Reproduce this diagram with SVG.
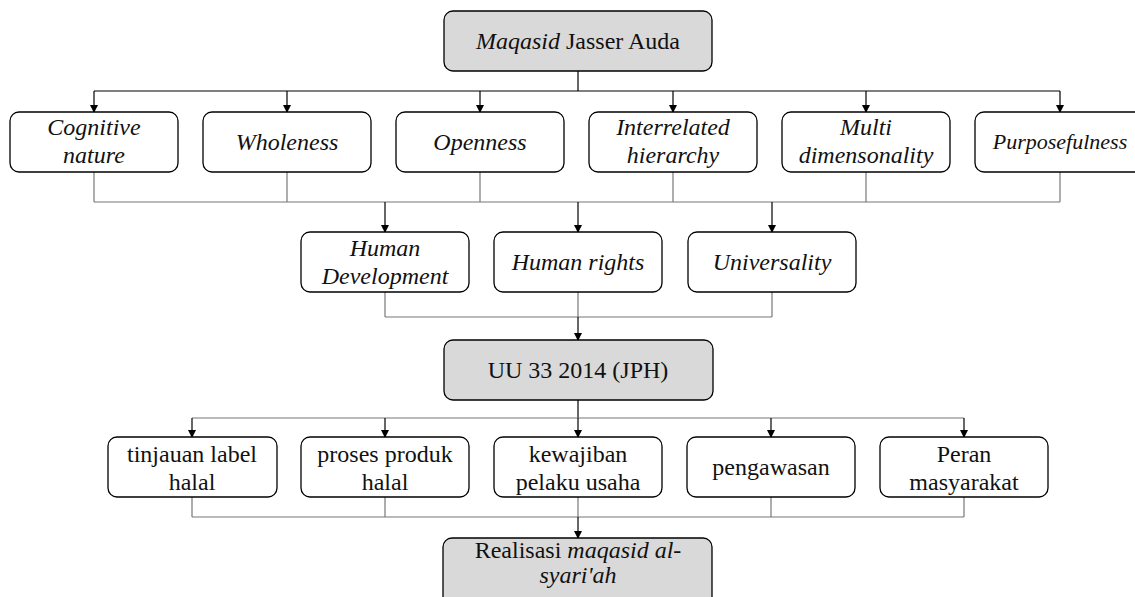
<svg xmlns="http://www.w3.org/2000/svg" width="1135" height="597" viewBox="0 0 1135 597">
<defs>
<marker id="arr" markerUnits="userSpaceOnUse" markerWidth="8" markerHeight="9" refX="7" refY="4" orient="auto" viewBox="0 0 8 8">
<path d="M0,0 L8,4 L0,8 Z" fill="#000"/>
</marker>
<style>
.box{fill:#fff;stroke:#000;stroke-width:1.3}
.hl{fill:#d9d9d9;stroke:#000;stroke-width:1.3}
.t{font-family:"Liberation Serif","Times New Roman",serif;font-size:24px;fill:#111;text-anchor:middle}
.it{font-style:italic}
.k{stroke:#000;stroke-width:1.2;fill:none}
.g{stroke:#777;stroke-width:1.2;fill:none}
.a{stroke:#000;stroke-width:1.2;fill:none;marker-end:url(#arr)}
</style>
</defs>
<g id="connectors">
<line class="k" x1="578" y1="71" x2="578" y2="91"/>
<line class="k" x1="94" y1="91" x2="1060" y2="91"/>
<line class="a" x1="94" y1="91" x2="94" y2="112"/>
<line class="a" x1="287" y1="91" x2="287" y2="112"/>
<line class="a" x1="480" y1="91" x2="480" y2="112"/>
<line class="a" x1="673" y1="91" x2="673" y2="112"/>
<line class="a" x1="866" y1="91" x2="866" y2="112"/>
<line class="a" x1="1060" y1="91" x2="1060" y2="112"/>
<line class="g" x1="94" y1="172" x2="94" y2="202"/>
<line class="g" x1="287" y1="172" x2="287" y2="202"/>
<line class="g" x1="480" y1="172" x2="480" y2="202"/>
<line class="g" x1="673" y1="172" x2="673" y2="202"/>
<line class="g" x1="866" y1="172" x2="866" y2="202"/>
<line class="g" x1="1060" y1="172" x2="1060" y2="202"/>
<line class="g" x1="94" y1="202" x2="1060" y2="202"/>
<line class="a" x1="385" y1="202" x2="385" y2="232"/>
<line class="a" x1="578" y1="202" x2="578" y2="232"/>
<line class="a" x1="772" y1="202" x2="772" y2="232"/>
<line class="g" x1="385" y1="292" x2="385" y2="317"/>
<line class="g" x1="578" y1="292" x2="578" y2="317"/>
<line class="g" x1="772" y1="292" x2="772" y2="317"/>
<line class="g" x1="385" y1="317" x2="772" y2="317"/>
<line class="a" x1="578" y1="317" x2="578" y2="340"/>
<line class="k" x1="578" y1="400" x2="578" y2="418"/>
<line class="g" x1="192" y1="418" x2="964" y2="418"/>
<line class="a" x1="192" y1="418" x2="192" y2="437"/>
<line class="a" x1="385" y1="418" x2="385" y2="437"/>
<line class="a" x1="578" y1="418" x2="578" y2="437"/>
<line class="a" x1="771" y1="418" x2="771" y2="437"/>
<line class="a" x1="964" y1="418" x2="964" y2="437"/>
<line class="g" x1="192" y1="497" x2="192" y2="517"/>
<line class="g" x1="385" y1="497" x2="385" y2="517"/>
<line class="g" x1="578" y1="497" x2="578" y2="517"/>
<line class="g" x1="771" y1="497" x2="771" y2="517"/>
<line class="g" x1="964" y1="497" x2="964" y2="517"/>
<line class="g" x1="192" y1="517" x2="964" y2="517"/>
<line class="a" x1="578" y1="517" x2="578" y2="538"/>
</g>
<g id="n-top">
<rect class="hl" x="444" y="11" width="268" height="60" rx="9"/>
<text class="t" x="578" y="49"><tspan class="it">Maqasid</tspan> Jasser Auda</text>
</g>
<g id="n-cognitive">
<rect class="box" x="10" y="112" width="168" height="60" rx="9"/>
<text class="t it" x="94" y="135">Cognitive</text>
<text class="t it" x="94" y="163">nature</text>
</g>
<g id="n-wholeness">
<rect class="box" x="203" y="112" width="168" height="60" rx="9"/>
<text class="t it" x="287" y="150">Wholeness</text>
</g>
<g id="n-openness">
<rect class="box" x="396" y="112" width="168" height="60" rx="9"/>
<text class="t it" x="480" y="150">Openness</text>
</g>
<g id="n-interrelated">
<rect class="box" x="589" y="112" width="168" height="60" rx="9"/>
<text class="t it" x="673" y="135">Interrelated</text>
<text class="t it" x="673" y="163">hierarchy</text>
</g>
<g id="n-multi">
<rect class="box" x="782" y="112" width="168" height="60" rx="9"/>
<text class="t it" x="866" y="135">Multi</text>
<text class="t it" x="866" y="163">dimensonality</text>
</g>
<g id="n-purpose">
<rect class="box" x="975" y="112" width="170" height="60" rx="9"/>
<text class="t it" x="1060" y="149" style="font-size:22px">Purposefulness</text>
</g>
<g id="n-humandev">
<rect class="box" x="301" y="232" width="168" height="60" rx="9"/>
<text class="t it" x="385" y="256">Human</text>
<text class="t it" x="385" y="284">Development</text>
</g>
<g id="n-humanrights">
<rect class="box" x="494" y="232" width="168" height="60" rx="9"/>
<text class="t it" x="578" y="270">Human rights</text>
</g>
<g id="n-universality">
<rect class="box" x="688" y="232" width="168" height="60" rx="9"/>
<text class="t it" x="772" y="270">Universality</text>
</g>
<g id="n-uu">
<rect class="hl" x="444" y="340" width="269" height="60" rx="9"/>
<text class="t" x="578" y="378">UU 33 2014 (JPH)</text>
</g>
<g id="n-tinjauan">
<rect class="box" x="108" y="437" width="169" height="60" rx="9"/>
<text class="t" x="192" y="462">tinjauan label</text>
<text class="t" x="192" y="490">halal</text>
</g>
<g id="n-proses">
<rect class="box" x="301" y="437" width="168" height="60" rx="9"/>
<text class="t" x="385" y="462">proses produk</text>
<text class="t" x="385" y="490">halal</text>
</g>
<g id="n-kewajiban">
<rect class="box" x="494" y="437" width="168" height="60" rx="9"/>
<text class="t" x="578" y="462">kewajiban</text>
<text class="t" x="578" y="490">pelaku usaha</text>
</g>
<g id="n-pengawasan">
<rect class="box" x="687" y="437" width="168" height="60" rx="9"/>
<text class="t" x="771" y="475">pengawasan</text>
</g>
<g id="n-peran">
<rect class="box" x="880" y="437" width="168" height="60" rx="9"/>
<text class="t" x="964" y="462">Peran</text>
<text class="t" x="964" y="490">masyarakat</text>
</g>
<g id="n-realisasi">
<rect class="hl" x="443" y="538" width="269" height="70" rx="9"/>
<text class="t" x="578" y="558">Realisasi <tspan class="it">maqasid al-</tspan></text>
<text class="t it" x="578" y="583">syari'ah</text>
</g>
</svg>
